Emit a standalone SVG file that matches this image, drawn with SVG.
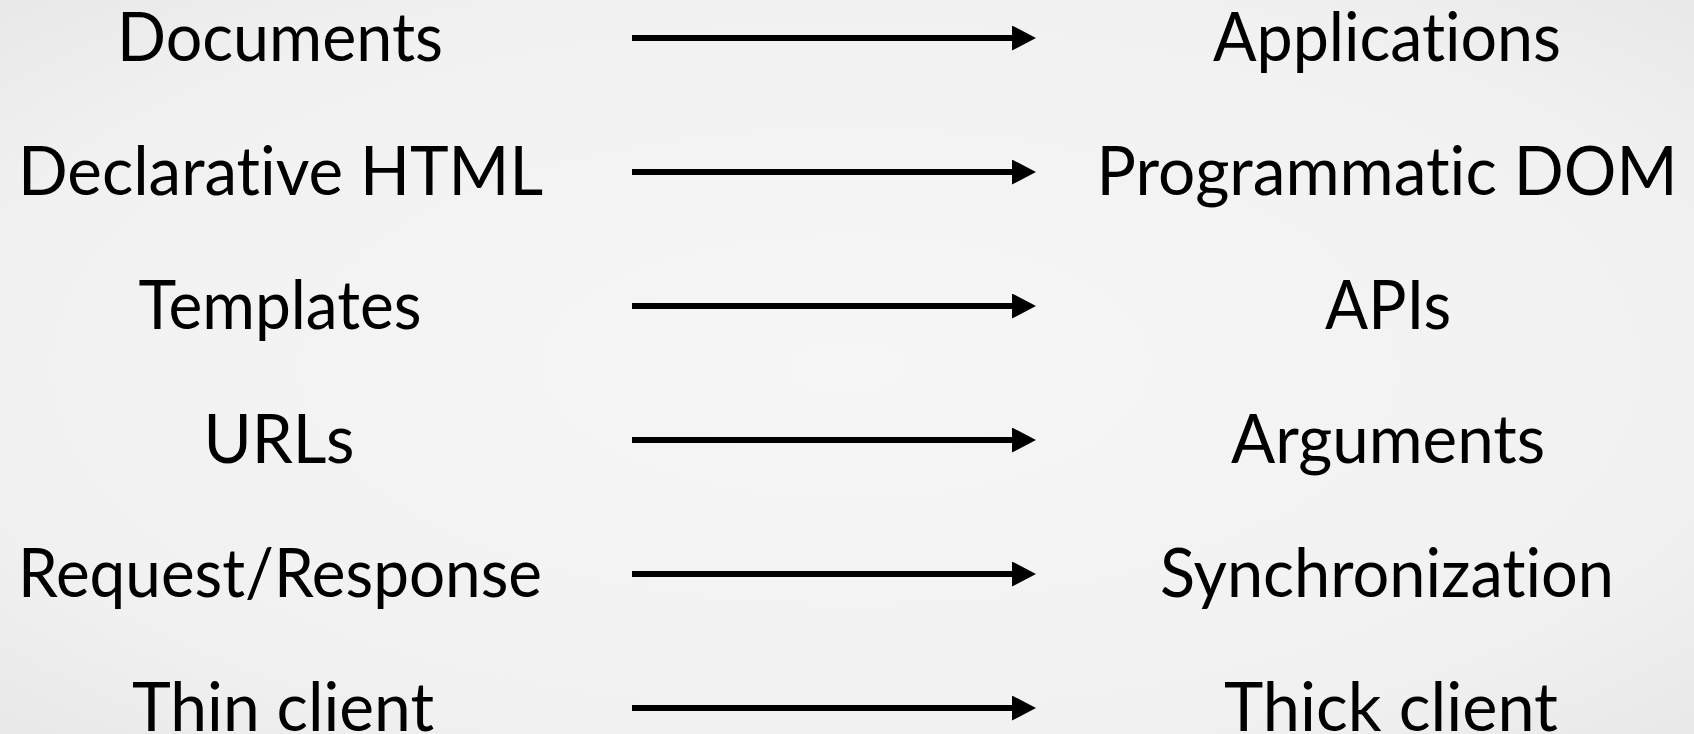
<svg xmlns="http://www.w3.org/2000/svg" width="1694" height="734" viewBox="0 0 1694 734">
<defs>
<radialGradient id="bg" cx="50%" cy="50%" r="75%">
<stop offset="0" stop-color="#f6f6f6"/>
<stop offset="0.7" stop-color="#f1f1f1"/>
<stop offset="1" stop-color="#e6e6e6"/>
</radialGradient>
<marker id="ah" viewBox="0 0 24 25" refX="0" refY="12.5" markerWidth="24" markerHeight="25" markerUnits="userSpaceOnUse" orient="auto">
<path d="M0,0 L24,12.5 L0,25 Z" fill="#000"/>
</marker>
</defs>
<style>
.t{font-family:"Lato","Noto Sans","Liberation Sans",sans-serif;font-size:68px;fill:#000;text-anchor:middle;font-variant-ligatures:none;font-feature-settings:"liga" 0,"clig" 0}
.c{stroke:#000;stroke-width:6;fill:none}
</style>
<rect width="1694" height="734" fill="url(#bg)"/>
<g id="left">
<g id="n-documents"><text class="t" x="280" y="61" textLength="326" lengthAdjust="spacingAndGlyphs">Documents</text></g>
<g id="n-declarative"><text class="t" x="280.5" y="195" textLength="525" lengthAdjust="spacingAndGlyphs">Declarative HTML</text></g>
<g id="n-templates"><text class="t" x="280" y="329" textLength="283" lengthAdjust="spacingAndGlyphs">Templates</text></g>
<g id="n-urls"><text class="t" x="279" y="463" textLength="151" lengthAdjust="spacingAndGlyphs">URLs</text></g>
<g id="n-reqresp"><text class="t" x="280" y="597" textLength="524" lengthAdjust="spacingAndGlyphs">Request/Response</text></g>
<g id="n-thin"><text class="t" x="283" y="731" textLength="302" lengthAdjust="spacingAndGlyphs">Thin client</text></g>
</g>
<g id="right">
<g id="n-applications"><text class="t" x="1387" y="61" textLength="348" lengthAdjust="spacingAndGlyphs">Applications</text></g>
<g id="n-programmatic"><text class="t" x="1387" y="195" textLength="581" lengthAdjust="spacingAndGlyphs">Programmatic DOM</text></g>
<g id="n-apis"><text class="t" x="1388" y="329" textLength="126" lengthAdjust="spacingAndGlyphs">APIs</text></g>
<g id="n-arguments"><text class="t" x="1388" y="463" textLength="314" lengthAdjust="spacingAndGlyphs">Arguments</text></g>
<g id="n-sync"><text class="t" x="1387" y="597" textLength="454" lengthAdjust="spacingAndGlyphs">Synchronization</text></g>
<g id="n-thick"><text class="t" x="1391" y="731" textLength="334" lengthAdjust="spacingAndGlyphs">Thick client</text></g>
</g>
<g id="connectors">
<line class="c" x1="632" y1="38" x2="1012" y2="38" marker-end="url(#ah)"/>
<line class="c" x1="632" y1="172" x2="1012" y2="172" marker-end="url(#ah)"/>
<line class="c" x1="632" y1="306" x2="1012" y2="306" marker-end="url(#ah)"/>
<line class="c" x1="632" y1="440" x2="1012" y2="440" marker-end="url(#ah)"/>
<line class="c" x1="632" y1="574" x2="1012" y2="574" marker-end="url(#ah)"/>
<line class="c" x1="632" y1="708" x2="1012" y2="708" marker-end="url(#ah)"/>
</g>
</svg>
